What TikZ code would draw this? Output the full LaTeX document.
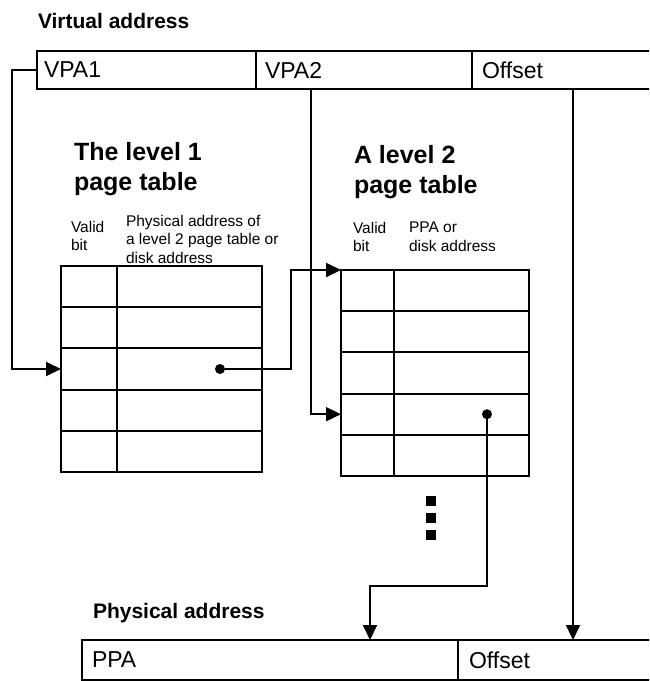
\documentclass[tikz,border=0pt]{standalone}
\usepackage{fontspec}
\setmainfont{Liberation Sans}
\usetikzlibrary{positioning,arrows.meta}

\begin{document}
\begin{tikzpicture}[
  x = 1pt, y = -1pt,
  every node/.style = {outer sep = 0pt},
  regcell/.style = {
    draw, line width = 1.9pt,
    minimum height = 38pt,
    inner sep = 0pt, anchor = west
  },
  regtext/.style = {
    inner sep = 0pt, anchor = west,
    font = \fontsize{23}{27}\selectfont
  },
  validcell/.style = {
    draw, line width = 2.1pt,
    minimum height = 41.2pt,
    inner sep = 0pt, anchor = north west
  },
  addrcell/.style = {validcell},
  tabletitle/.style = {
    inner sep = 0pt, anchor = north west, align = left,
    font = \fontsize{25}{30}\selectfont\bfseries
  },
  addrtitle/.style = {
    inner sep = 0pt, anchor = base west,
    font = \fontsize{21}{25}\selectfont\bfseries
  },
  colhead/.style = {
    inner sep = 0pt, anchor = north west, align = left,
    font = \fontsize{15.5}{18.5}\selectfont
  },
  ptr/.style = {circle, fill, inner sep = 0pt, minimum size = 10pt},
  moresq/.style = {fill, inner sep = 0pt, minimum size = 9.5pt},
  conn/.style = {draw, line width = 1.9pt},
  arr/.style = {conn, -{Triangle[length = 15pt, width = 14pt]}}
]
  \useasboundingbox (0,0) rectangle (649,681);
  \clip (0,0) rectangle (649,681);

  % Virtuelle Adresse
  \node[addrtitle] (vtitle) at (38,28) {Virtual address};
  \node[regcell, minimum width = 219pt] (vpa1) at (37,70) {};
  \node[regcell, minimum width = 216pt, right = 0pt of vpa1] (vpa2) {};
  \node[regcell, minimum width = 202pt, right = 0pt of vpa2] (voff) {};
  \node[regtext] at ([xshift = 7pt]vpa1.west) {VPA1};
  \node[regtext] at ([xshift = 9pt]vpa2.west) {VPA2};
  \node[regtext] at ([xshift = 10pt]voff.west) {Offset};

  % Seitentabellen
  \node[tabletitle] (l1title) at (74,142) {The level 1\\page table};
  \node[tabletitle] (l2title) at (354,145) {A level 2\\page table};
  \node[colhead] (l1valid) at (71,221) {Valid\\bit};
  \node[colhead] (l1addr) at (126,215)
    {Physical address of\\a level 2 page table or\\disk address};
  \node[colhead] (l2valid) at (353,222) {Valid\\bit};
  \node[colhead] (l2addr) at (409,222) {PPA or\\disk address};

  \foreach \r in {0,...,4} {
    \node[validcell, minimum width = 56pt] (t1v\r) at (61,{266+41.2*\r}) {};
    \node[addrcell, minimum width = 145pt, right = 0pt of t1v\r] (t1a\r) {};
    \node[validcell, minimum width = 53pt] (t2v\r) at (341,{270+41.2*\r}) {};
    \node[addrcell, minimum width = 135pt, right = 0pt of t2v\r] (t2a\r) {};
  }
  \foreach \k in {0,1,2}
    \node[moresq] (more\k) at (431,{501+17*\k}) {};

  \node[ptr] (dot1) at ([xshift = -42pt]t1a2.east) {};
  \node[ptr] (dot2) at ([xshift = -42pt]t2a3.east) {};

  % Physikalische Adresse
  \node[addrtitle] (ptitle) at (93,618) {Physical address};
  \node[regcell, minimum width = 376pt, minimum height = 40pt] (ppa) at (82,660) {};
  \node[regcell, minimum width = 230pt, minimum height = 40pt, right = 0pt of ppa] (poff) {};
  \node[regtext] at ([xshift = 10pt]ppa.west) {PPA};
  \node[regtext] at ([xshift = 11pt]poff.west) {Offset};

  % Verbindungen
  \coordinate (turn1) at (291,270);
  \coordinate (turn2) at (370,586);
  \draw[arr] (vpa1.west) -- ++(-25,0) |- (t1v2.west);
  \draw[arr] (dot1) -| (turn1) -- (t2v0.north west);
  \draw[arr] ([xshift = -53pt]vpa2.south) |- (t2v3.west);
  \draw[arr] (dot2) |- (turn2) -- (turn2 |- ppa.north);
  \draw[arr] (voff.south) -- (poff.north);
\end{tikzpicture}
\end{document}
